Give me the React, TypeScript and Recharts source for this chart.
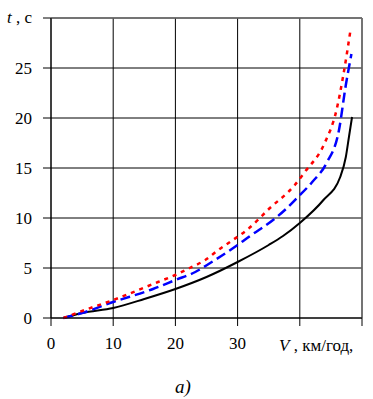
import { CartesianGrid, Line, LineChart, ReferenceLine, XAxis, YAxis } from "recharts"

// V, km/h and t, s
const blackV = [2, 5, 10, 15, 20, 25, 30, 35, 37.3, 40, 43.8, 46.5, 47.4, 47.9, 48.4]
const blackT = [0, 0.5, 1.0, 1.9, 2.9, 4.1, 5.6, 7.3, 8.2, 9.5, 11.8, 14.1, 16.1, 18.1, 20.1]
const blueV = [2, 5, 10, 16.4, 20, 23.2, 25.6, 30, 32, 35.7, 37.6, 39.7, 42, 44.3, 46.3, 47.4, 48.3]
const blueT = [0, 0.5, 1.6, 2.9, 3.8, 4.6, 5.5, 7.3, 8.2, 9.8, 10.8, 12.1, 13.6, 15.5, 18.8, 23.3, 26.4]
const redV = [2, 5, 10, 17.2, 20, 22.3, 24.8, 26.9, 29, 31.5, 35.2, 39.2, 40.8, 44, 45.9, 47, 48.2]
const redT = [0, 0.7, 1.8, 3.6, 4.3, 5.0, 5.8, 6.8, 7.7, 8.8, 11.0, 13.3, 14.6, 17.5, 20.8, 24.3, 29]

const xTicks = [0, 10, 20, 30, 40, 50]
const xLabels = ["0", "10", "20", "30", "", ""]
const yTicks = [0, 5, 10, 15, 20, 25, 30]

const toRows = (v: number[], t: number[]) => v.map((x, i) => ({ v: x, t: t[i] }))
const black = toRows(blackV, blackT)
const blue = toRows(blueV, blueT)
const red = toRows(redV, redT)

const font = "Tinos, 'Liberation Serif', 'Times New Roman', 'DejaVu Serif', 'Noto Serif', serif"

const YTick = (props: any) => {
  const { x, y, payload } = props
  if (payload.value === 30) {
    return (
      <text x={x} y={y} dy={5} textAnchor="end" style={{ fontFamily: font }} fontSize={17} fill="#000">
        <tspan fontStyle="italic">t</tspan>
        <tspan> , с</tspan>
      </text>
    )
  }
  return (
    <text x={x} y={y} dy={6} textAnchor="end" style={{ fontFamily: font }} fontSize={17} fill="#000">
      {payload.value}
    </text>
  )
}

const XTick = (props: any) => {
  const { x, y, payload } = props
  const i = xTicks.indexOf(payload.value)
  return (
    <text x={x} y={y} dy={13} textAnchor="middle" style={{ fontFamily: font }} fontSize={17} fill="#000">
      {xLabels[i]}
    </text>
  )
}

const VLabel = () => (
  <text x={279} y={351} style={{ fontFamily: font }} fontSize={17} fill="#000">
    <tspan fontStyle="italic">V</tspan>
    <tspan> , км/год,</tspan>
  </text>
)

export default function App() {
  return (
    <div style={{ position: "absolute", left: 0, top: 0, width: 373, height: 399, background: "#fff", fontFamily: font }}>
      <LineChart width={373} height={399} margin={{ top: 18, right: 11, left: 0, bottom: 0 }}>
        <CartesianGrid stroke="#000" strokeWidth={1} />
        <XAxis
          type="number"
          dataKey="v"
          domain={[0, 50]}
          ticks={xTicks}
          height={81}
          tickSize={8}
          tickMargin={10}
          stroke="#000"
          tick={<XTick />}
          label={{ content: () => <VLabel /> }}
        />
        <YAxis
          type="number"
          dataKey="t"
          domain={[0, 30]}
          ticks={yTicks}
          width={51}
          tickSize={8}
          tickMargin={11}
          stroke="#000"
          tick={<YTick />}
        />
        <ReferenceLine y={30} stroke="#707070" strokeWidth={1.5} />
        <ReferenceLine x={50} stroke="#707070" strokeWidth={1.5} />
        <Line data={black} dataKey="t" type="monotone" stroke="#000" strokeWidth={2} dot={false} isAnimationActive={false} />
        <Line
          data={blue}
          dataKey="t"
          type="monotone"
          stroke="#0000ff"
          strokeWidth={2.5}
          strokeDasharray="10 5"
          dot={false}
          isAnimationActive={false}
        />
        <Line
          data={red}
          dataKey="t"
          type="monotone"
          stroke="#ff0000"
          strokeWidth={2.5}
          strokeDasharray="4 5"
          dot={false}
          isAnimationActive={false}
        />
      </LineChart>
      <div
        style={{
          position: "absolute",
          left: 175,
          top: 376,
          fontFamily: font,
          fontStyle: "italic",
          fontSize: 19,
          color: "#000",
        }}
      >
        a)
      </div>
    </div>
  )
}
